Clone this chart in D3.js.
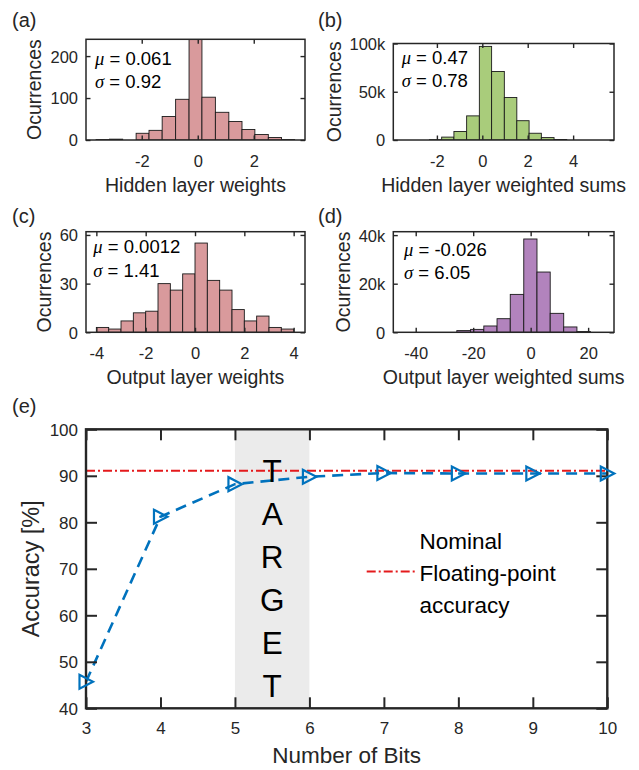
<!DOCTYPE html>
<html>
<head>
<meta charset="utf-8">
<script src="https://cdn.jsdelivr.net/npm/d3@7"></script>
<style>
  body { margin: 0; background: #fff; }
  svg { display: block; font-family: "Liberation Sans", Arial, Helvetica, sans-serif; }
</style>
</head>
<body>
<div id="chart"></div>
<script>
"use strict";

// histogram data (bin edges + counts)
const hwEdges = [-3.63, -3.15, -2.68, -2.20, -1.74, -1.27, -0.79, -0.31, 0.15, 0.63, 1.11, 1.58, 2.04, 2.52, 2.99, 3.46];
const hwCounts = [1, 2, 0, 16, 23, 56, 97, 250, 102, 66, 44, 25, 13, 6, 1];

const hsEdges = [-2.33, -1.79, -1.25, -0.69, -0.13, 0.41, 0.97, 1.52, 2.06, 2.60, 3.16, 3.72];
const hsCounts = [300, 3000, 8800, 25000, 97000, 71000, 44000, 20000, 7000, 2500, 500];

const owEdges = [-4, -3.5, -3, -2.5, -2, -1.5, -1, -0.5, 0, 0.5, 1, 1.5, 2, 2.5, 3, 3.5, 4];
const owCounts = [3, 2, 7, 12, 13, 30, 26, 36, 55, 32, 26, 14, 7, 10, 3, 2];

const osEdges = [-25.7, -20.9, -16.3, -11.7, -7.1, -2.4, 2.2, 6.8, 11.5, 16.1, 20.8];
const osCounts = [700, 1200, 2600, 5600, 15600, 38400, 24800, 7800, 2200, 300];

// tick values
const hwXTicks = [-2, 0, 2], hwYTicks = [0, 100, 200];
const hsXTicks = [-2, 0, 2, 4], hsYTicks = [0, 50000, 100000];
const owXTicks = [-4, -2, 0, 2, 4], owYTicks = [0, 30, 60];
const osXTicks = [-40, -20, 0, 20], osYTicks = [0, 20000, 40000];

// accuracy vs bits
const bits = [3, 4, 5, 6, 7, 8, 9, 10];
const accuracy = [45.7, 81.2, 88.2, 89.8, 90.6, 90.5, 90.5, 90.5];
const nominalAccuracy = 91.1;
const bitTicks = [3, 4, 5, 6, 7, 8, 9, 10];
const accTicks = [40, 50, 60, 70, 80, 90, 100];
const targetRange = [5, 6];
const targetLetters = ["T", "A", "R", "G", "E", "T"];

const width = 639, height = 770;
const ink = "#262626";

const svg = d3.select("#chart").append("svg")
  .attr("width", width)
  .attr("height", height);

const kFmt = d => d === 0 ? "0" : (d / 1000) + "k";
const plainFmt = d => String(d);

function histPanel(p) {
  const x = d3.scaleLinear().domain(p.xDomain).range([p.left, p.right]);
  const y = d3.scaleLinear().domain(p.yDomain).range([p.bottom, p.top]);
  const g = svg.append("g");

  g.append("clipPath").attr("id", p.id)
    .append("rect")
    .attr("x", p.left).attr("y", p.top)
    .attr("width", p.right - p.left).attr("height", p.bottom - p.top);

  g.append("g").attr("clip-path", `url(#${p.id})`)
    .selectAll("rect")
    .data(p.counts)
    .join("rect")
    .attr("x", (d, i) => x(p.edges[i]))
    .attr("width", (d, i) => x(p.edges[i + 1]) - x(p.edges[i]))
    .attr("y", d => y(d))
    .attr("height", d => y(0) - y(d))
    .attr("fill", p.color)
    .attr("stroke", "#1a1a1a")
    .attr("stroke-width", 0.9);

  const tl = 4.5;
  const bottomAxis = g.append("g")
    .attr("transform", `translate(0,${p.bottom})`)
    .call(d3.axisBottom(x).tickValues(p.xTicks).tickSize(-tl).tickFormat(plainFmt));
  bottomAxis.selectAll("text").attr("y", 26.5).attr("dy", null);

  g.append("g").attr("transform", `translate(0,${p.top})`)
    .call(d3.axisTop(x).tickValues(p.xTicks).tickSize(-tl).tickFormat(""));

  const leftAxis = g.append("g")
    .attr("transform", `translate(${p.left},0)`)
    .call(d3.axisLeft(y).tickValues(p.yTicks).tickSize(-tl).tickPadding(8).tickFormat(p.yFmt || plainFmt));

  g.append("g").attr("transform", `translate(${p.right},0)`)
    .call(d3.axisRight(y).tickValues(p.yTicks).tickSize(-tl).tickFormat(""));

  g.selectAll(".domain").remove();
  g.selectAll(".tick line").attr("stroke", ink).attr("stroke-width", 1.4);
  g.selectAll(".tick text")
    .attr("fill", ink)
    .style("font-size", "16.5px")
    .style("font-family", "'Liberation Sans', Arial, sans-serif");
  leftAxis.selectAll("text").attr("dy", "0.36em");

  g.append("rect")
    .attr("x", p.left).attr("y", p.top)
    .attr("width", p.right - p.left).attr("height", p.bottom - p.top)
    .attr("fill", "none").attr("stroke", ink).attr("stroke-width", 1.5);

  // stats
  const stats = [["μ", p.mu], ["σ", p.sigma]];
  stats.forEach((s, i) => {
    const t = g.append("text")
      .attr("x", p.statX)
      .attr("y", p.statY + i * 23.3)
      .style("font-size", "18.5px")
      .attr("fill", "#000");
    t.append("tspan").style("font-style", "italic")
      .style("font-family", "'Liberation Serif', 'DejaVu Serif', serif").text(s[0]);
    t.append("tspan").text(" = " + s[1]);
  });

  // labels
  g.append("text")
    .attr("x", (p.left + p.right) / 2)
    .attr("y", p.bottom + 52)
    .attr("text-anchor", "middle")
    .attr("fill", ink)
    .style("font-size", "19.5px")
    .text(p.xLabel);

  g.append("text")
    .attr("transform", `translate(${p.yLabelX},${(p.top + p.bottom) / 2}) rotate(-90)`)
    .attr("text-anchor", "middle")
    .attr("fill", ink)
    .style("font-size", "19.5px")
    .text("Ocurrences");

  g.append("text")
    .attr("x", p.tagX).attr("y", p.tagY)
    .attr("fill", ink)
    .style("font-size", "20px")
    .text(p.tag);
}

histPanel({
  id: "clipA", tag: "(a)", tagX: 12, tagY: 27,
  left: 86, right: 305, top: 39.3, bottom: 140,
  xDomain: [-3.99, 3.83], yDomain: [0, 240],
  edges: hwEdges, counts: hwCounts, xTicks: hwXTicks, yTicks: hwYTicks,
  color: "#d99a9c", mu: "0.061", sigma: "0.92", statX: 95, statY: 65,
  xLabel: "Hidden layer weights", yLabelX: 41
});

histPanel({
  id: "clipB", tag: "(b)", tagX: 318, tagY: 27,
  left: 393.3, right: 614, top: 43.5, bottom: 140,
  xDomain: [-3.92, 5.8], yDomain: [0, 100000],
  edges: hsEdges, counts: hsCounts, xTicks: hsXTicks, yTicks: hsYTicks, yFmt: kFmt,
  color: "#a9cc7b", mu: "0.47", sigma: "0.78", statX: 401.7, statY: 64,
  xLabel: "Hidden layer weighted sums", yLabelX: 341
});

histPanel({
  id: "clipC", tag: "(c)", tagX: 12, tagY: 222.5,
  left: 86, right: 305, top: 231.7, bottom: 332.3,
  xDomain: [-4.42, 4.46], yDomain: [0, 62],
  edges: owEdges, counts: owCounts, xTicks: owXTicks, yTicks: owYTicks,
  color: "#d99a9c", mu: "0.0012", sigma: "1.41", statX: 93.3, statY: 253.3,
  xLabel: "Output layer weights", yLabelX: 51
});

histPanel({
  id: "clipD", tag: "(d)", tagX: 318, tagY: 222.5,
  left: 393.3, right: 614, top: 231.7, bottom: 332.3,
  xDomain: [-47.8, 29], yDomain: [0, 41400],
  edges: osEdges, counts: osCounts, xTicks: osXTicks, yTicks: osYTicks, yFmt: kFmt,
  color: "#b283bd", mu: "-0.026", sigma: "6.05", statX: 404, statY: 256,
  xLabel: "Output layer weighted sums", yLabelX: 350
});

// ---- (e) accuracy vs number of bits ----
const E = { left: 86, right: 607.3, top: 429.3, bottom: 708.3 };
const xE = d3.scaleLinear().domain([3, 10]).range([E.left, E.right]);
const yE = d3.scaleLinear().domain([40, 100]).range([E.bottom, E.top]);
const ge = svg.append("g");

ge.append("rect")
  .attr("x", xE(targetRange[0]))
  .attr("y", E.top)
  .attr("width", xE(targetRange[1]) - xE(targetRange[0]))
  .attr("height", E.bottom - E.top)
  .attr("fill", "#ebebeb");

// nominal line
ge.append("line")
  .attr("x1", xE(3)).attr("x2", xE(10))
  .attr("y1", yE(nominalAccuracy)).attr("y2", yE(nominalAccuracy))
  .attr("stroke", "#e41a1c")
  .attr("stroke-width", 2)
  .attr("stroke-dasharray", "9,3,2,3");

ge.append("path")
  .datum(bits.map((b, i) => [b, accuracy[i]]))
  .attr("d", d3.line().x(d => xE(d[0])).y(d => yE(d[1])))
  .attr("fill", "none")
  .attr("stroke", "#0072bd")
  .attr("stroke-width", 2.6)
  .attr("stroke-dasharray", "11,7");

ge.selectAll(".marker")
  .data(bits.map((b, i) => [b, accuracy[i]]))
  .join("path")
  .attr("class", "marker")
  .attr("transform", d => `translate(${xE(d[0])},${yE(d[1])})`)
  .attr("d", "M-6.5,-7L-6.5,7L7,0Z")
  .attr("fill", "none")
  .attr("stroke", "#0072bd")
  .attr("stroke-width", 2.2);

// TARGET letters
ge.selectAll(".tgt")
  .data(targetLetters)
  .join("text")
  .attr("class", "tgt")
  .attr("x", xE(d3.mean(targetRange)))
  .attr("y", (d, i) => 482 + i * 43)
  .attr("text-anchor", "middle")
  .attr("fill", "#000")
  .style("font-size", "31.5px")
  .text(d => d);

// axes
const tlE = 11;
const bx = ge.append("g").attr("transform", `translate(0,${E.bottom})`)
  .call(d3.axisBottom(xE).tickValues(bitTicks).tickSize(-tlE).tickFormat(plainFmt));
bx.selectAll("text").attr("y", 26).attr("dy", null);
ge.append("g").attr("transform", `translate(0,${E.top})`)
  .call(d3.axisTop(xE).tickValues(bitTicks).tickSize(-tlE).tickFormat(""));
const ly = ge.append("g").attr("transform", `translate(${E.left},0)`)
  .call(d3.axisLeft(yE).tickValues(accTicks).tickSize(-tlE).tickPadding(8).tickFormat(plainFmt));
ly.selectAll("text").attr("dy", "0.36em");
ge.append("g").attr("transform", `translate(${E.right},0)`)
  .call(d3.axisRight(yE).tickValues(accTicks).tickSize(-tlE).tickFormat(""));
ge.selectAll(".domain").remove();
ge.selectAll(".tick line").attr("stroke", ink).attr("stroke-width", 2);
ge.selectAll(".tick text")
  .attr("fill", ink)
  .style("font-size", "17px")
  .style("font-family", "'Liberation Sans', Arial, sans-serif");

ge.append("rect")
  .attr("x", E.left).attr("y", E.top)
  .attr("width", E.right - E.left).attr("height", E.bottom - E.top)
  .attr("fill", "none").attr("stroke", ink).attr("stroke-width", 2.4);

// markers over the frame, like matlab
ge.selectAll(".marker").raise();

// legend
ge.append("line")
  .attr("x1", 366.7).attr("x2", 415)
  .attr("y1", 571.5).attr("y2", 571.5)
  .attr("stroke", "#e41a1c")
  .attr("stroke-width", 2)
  .attr("stroke-dasharray", "9,3,2,3");
["Nominal", "Floating-point", "accuracy"].forEach((t, i) => {
  ge.append("text")
    .attr("x", 419.5)
    .attr("y", 548.5 + i * 32)
    .attr("fill", "#000")
    .style("font-size", "22.5px")
    .text(t);
});

// axis labels
ge.append("text")
  .attr("x", (E.left + E.right) / 2)
  .attr("y", 763)
  .attr("text-anchor", "middle")
  .attr("fill", ink)
  .style("font-size", "22.5px")
  .text("Number of Bits");

ge.append("text")
  .attr("transform", `translate(38.5,${(E.top + E.bottom) / 2}) rotate(-90)`)
  .attr("text-anchor", "middle")
  .attr("fill", ink)
  .style("font-size", "23.5px")
  .text("Accuracy [%]");

ge.append("text")
  .attr("x", 12).attr("y", 413)
  .attr("fill", ink)
  .style("font-size", "20px")
  .text("(e)");
</script>
</body>
</html>
